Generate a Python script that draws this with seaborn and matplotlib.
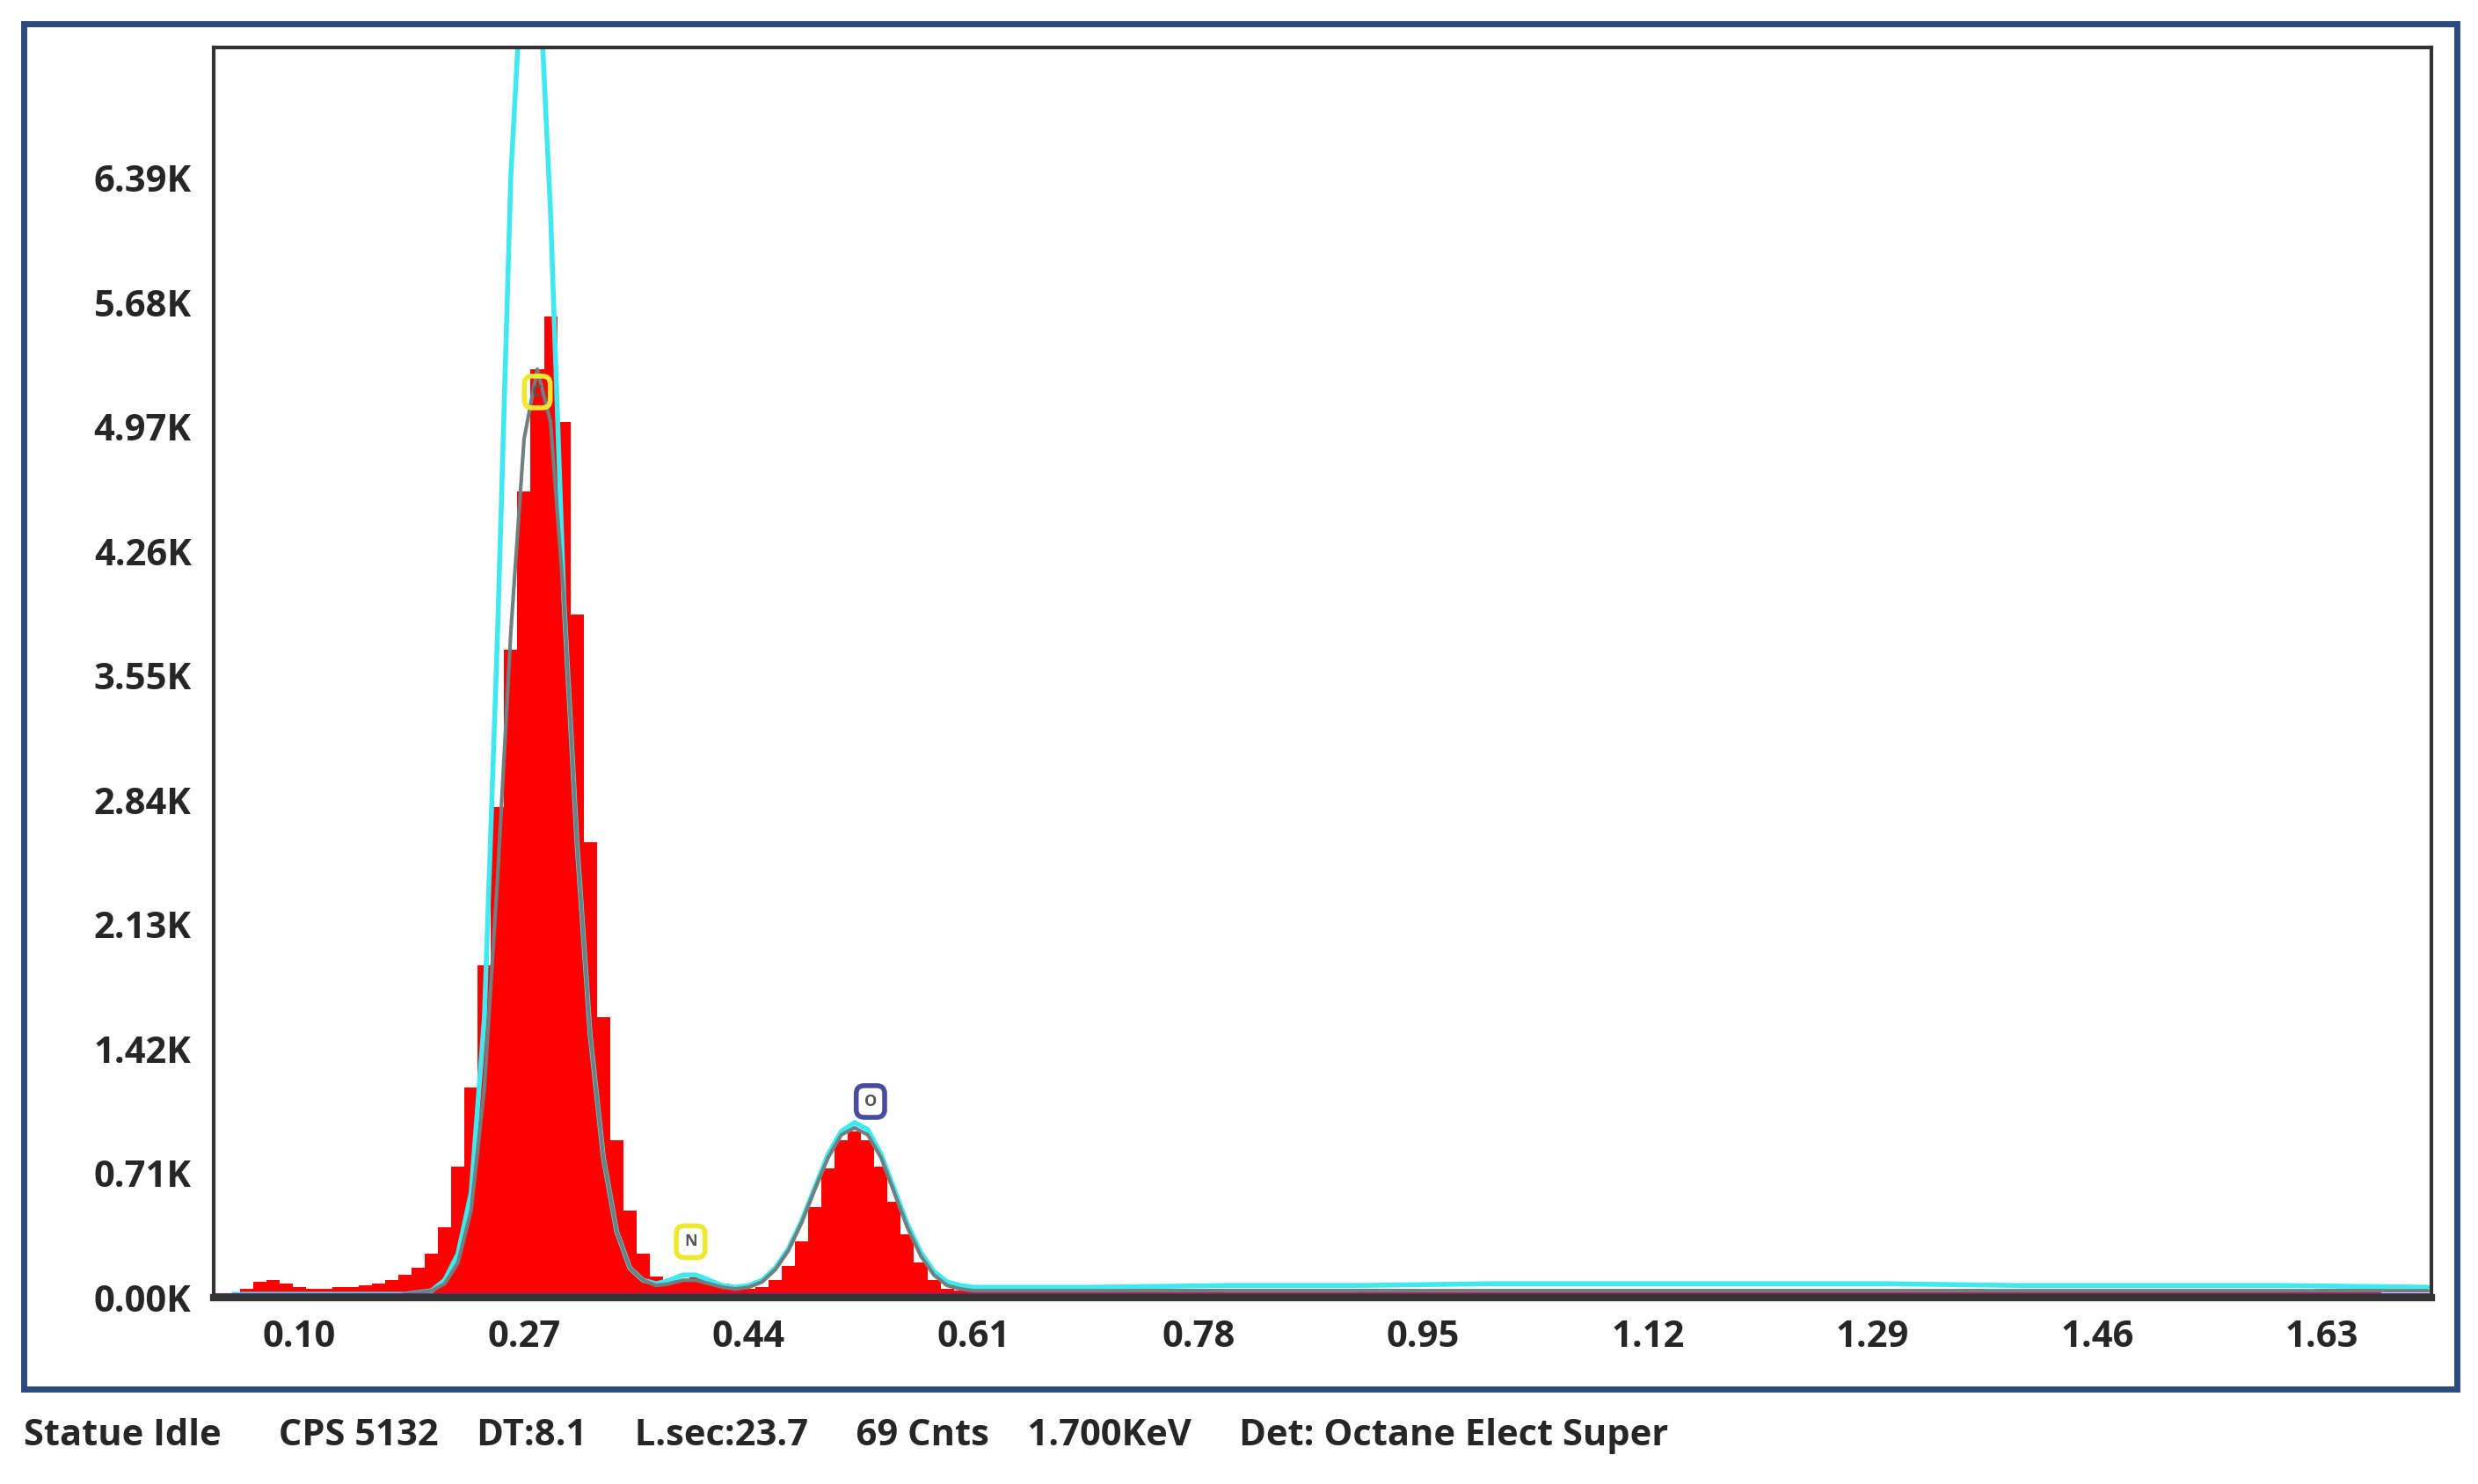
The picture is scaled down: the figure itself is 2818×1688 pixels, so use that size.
import numpy as np
import pandas as pd
import seaborn as sns
import matplotlib.pyplot as plt
from matplotlib.patches import Rectangle

# spectrum counts (K) at 0.01 keV channels, 0.05 .. 0.64
peak_energy = [round(0.05 + 0.01 * i, 2) for i in range(60)]
peak_counts = [0.00, 0.05, 0.09, 0.10, 0.08, 0.06, 0.05, 0.05, 0.06, 0.06,
               0.07, 0.08, 0.10, 0.13, 0.17, 0.25, 0.40, 0.75, 1.20, 1.90,
               2.80, 3.70, 4.60, 5.30, 5.60, 5.00, 3.90, 2.60, 1.60, 0.90,
               0.50, 0.25, 0.12, 0.10, 0.10, 0.12, 0.10, 0.08, 0.06, 0.05,
               0.06, 0.10, 0.18, 0.32, 0.52, 0.74, 0.90, 0.95, 0.90, 0.75,
               0.55, 0.36, 0.20, 0.10, 0.05, 0.04, 0.04, 0.04, 0.04, 0.04]
# tail channels, 0.05 keV wide, 0.65 .. 1.70
tail_energy = [round(0.65 + 0.05 * i, 2) for i in range(21)]
tail_counts = [0.04, 0.04, 0.05, 0.05, 0.05, 0.05, 0.05, 0.05, 0.05, 0.05, 0.05,
               0.05, 0.05, 0.05, 0.05, 0.04, 0.04, 0.04, 0.04, 0.04, 0.05]

# fitted curve (cyan) and peak fit (gray), K
fit_energy = peak_energy + [0.70, 0.80, 0.90, 1.00, 1.10, 1.20, 1.30, 1.40, 1.50, 1.60, 1.71]
fit_cyan = [0.02, 0.02, 0.02, 0.02, 0.02, 0.02, 0.02, 0.02, 0.02, 0.02,
            0.02, 0.02, 0.02, 0.02, 0.03, 0.04, 0.10, 0.25, 0.60, 1.60,
            3.80, 6.40, 7.80, 7.80, 6.20, 4.00, 2.60, 1.50, 0.80, 0.38,
            0.17, 0.10, 0.08, 0.10, 0.13, 0.13, 0.10, 0.07, 0.06, 0.07,
            0.10, 0.17, 0.28, 0.44, 0.63, 0.82, 0.95, 1.00, 0.96, 0.82,
            0.62, 0.42, 0.26, 0.15, 0.09, 0.07, 0.06, 0.06, 0.06, 0.06,
            0.06, 0.07, 0.07, 0.08, 0.08, 0.08, 0.08, 0.07, 0.07, 0.07, 0.06]
fit_gray = [0.01, 0.01, 0.01, 0.01, 0.01, 0.01, 0.01, 0.01, 0.01, 0.01,
            0.01, 0.01, 0.01, 0.02, 0.03, 0.04, 0.08, 0.20, 0.50, 1.20,
            2.40, 3.80, 4.90, 5.30, 5.00, 4.00, 2.60, 1.50, 0.80, 0.38,
            0.17, 0.10, 0.07, 0.08, 0.10, 0.10, 0.08, 0.06, 0.05, 0.06,
            0.09, 0.16, 0.27, 0.43, 0.62, 0.80, 0.93, 0.97, 0.93, 0.80,
            0.60, 0.40, 0.24, 0.13, 0.07, 0.05, 0.04, 0.04, 0.04, 0.04,
            0.04, 0.04, 0.04, 0.04, 0.04, 0.04, 0.04, 0.04, 0.04, 0.04, 0.04]

elements = ["C", "N", "O"]
elem_energy = [0.28, 0.396, 0.532]
elem_height = [5.17, 0.32, 1.12]
elem_color = ["#f0e830", "#f0e830", "#4a4aa0"]

x_ticks = [0.10, 0.27, 0.44, 0.61, 0.78, 0.95, 1.12, 1.29, 1.46, 1.63]
y_ticks = [0.00, 0.71, 1.42, 2.13, 2.84, 3.55, 4.26, 4.97, 5.68, 6.39]
status_text = ("Statue Idle      CPS 5132    DT:8.1     L.sec:23.7     69 Cnts    "
               "1.700KeV     Det: Octane Elect Super")

sns.set_theme(style="white")
plt.rcParams['font.family'] = ['Liberation Sans Narrow', 'Open Sans', 'DejaVu Sans']
plt.rcParams['font.weight'] = 'bold'

fig = plt.figure(figsize=(28.18, 16.88), dpi=100)
ax = fig.add_axes([0.0861, 0.1255, 0.895, 0.8425])

df_peak = pd.DataFrame({"energy": peak_energy, "counts": peak_counts})
df_tail = pd.DataFrame({"energy": tail_energy, "counts": tail_counts})
sns.histplot(data=df_peak, x="energy", weights="counts", binwidth=0.01,
             binrange=(0.045, 0.645), element="step", fill=True, color="#ff0000",
             alpha=1, linewidth=0, ax=ax)
sns.histplot(data=df_tail, x="energy", weights="counts", binwidth=0.05,
             binrange=(0.625, 1.725), element="step", fill=True, color="#ff0000",
             alpha=1, linewidth=0, ax=ax)

df_fit = pd.DataFrame({"energy": fit_energy, "cyan": fit_cyan, "gray": fit_gray})
sns.lineplot(data=df_fit, x="energy", y="cyan", color="#40e8f0", linewidth=4, ax=ax)
sns.lineplot(data=df_fit, x="energy", y="gray", color="#708080", linewidth=3, ax=ax)
ax.axhline(0.015, color="#6030a0", linewidth=3)

for el, ex, ey, ec in zip(elements, elem_energy, elem_height, elem_color):
    ax.text(ex, ey, el, fontsize=13, ha="center", va="center", color="#555555",
            bbox=dict(boxstyle="round,pad=0.5", fc="none", ec=ec, lw=4))

ax.set_xlim(0.035, 1.7125)
ax.set_ylim(0, 7.136)
ax.set_xticks(x_ticks)
ax.set_xticklabels([f"{v:.2f}" for v in x_ticks])
ax.set_yticks(y_ticks)
ax.set_yticklabels([f"{v:.2f}K" for v in y_ticks])
ax.tick_params(labelsize=30, pad=18, length=0)
ax.set_xlabel("")
ax.set_ylabel("")
for s in ax.spines.values():
    s.set_color("#333333")
    s.set_linewidth(3)
ax.spines["bottom"].set_linewidth(6)

fig.patches.append(Rectangle((0.0096, 0.064), 0.982, 0.92, transform=fig.transFigure,
                             fill=False, ec="#2b4a80", lw=5))
fig.text(0.0096, 0.032, status_text, fontsize=30, va="center", ha="left")

fig.savefig("out.png", dpi=100)
